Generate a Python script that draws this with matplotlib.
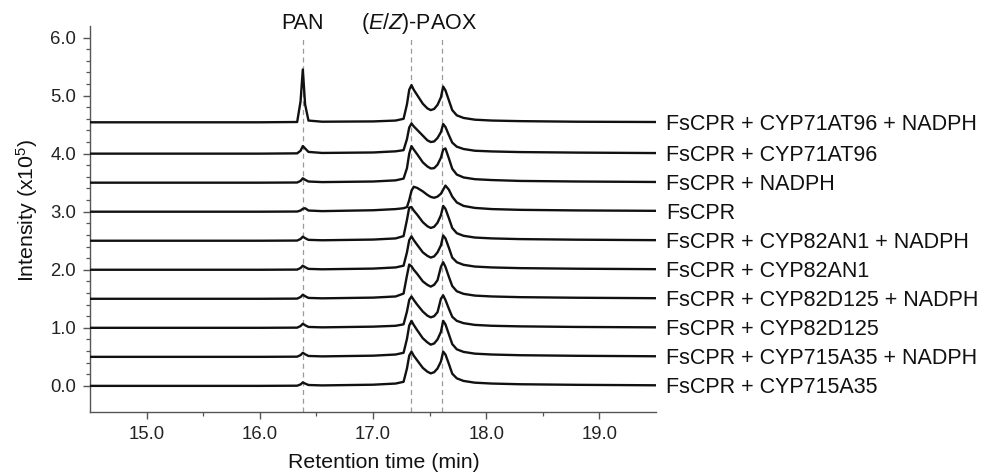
import numpy as np
import matplotlib
matplotlib.use('Agg')
import matplotlib.pyplot as plt
from matplotlib.ticker import FixedLocator

plt.rcParams['font.family'] = 'Liberation Sans'
plt.rcParams['mathtext.fontset'] = 'custom'
plt.rcParams['mathtext.rm'] = 'Liberation Sans'
plt.rcParams['mathtext.it'] = 'Liberation Sans:italic'
plt.rcParams['mathtext.default'] = 'regular'

# retention time grid (min), shared by all traces
rt = [14.50, 16.00, 16.33, 16.36, 16.38, 16.40, 16.43, 16.55, 17.00, 17.20,
      17.27, 17.30, 17.32, 17.34, 17.36, 17.39, 17.44, 17.48, 17.51, 17.54,
      17.57, 17.60, 17.62, 17.64, 17.67, 17.70, 17.74, 17.80, 17.90, 18.05,
      18.30, 18.80, 19.50]

# intensity above each trace's own baseline (x10^5), bottom trace first
cyp715a35 = [0, 0, .003, .025, .06, .04, .015, .008, .02, .04,
             .07, .30, .52, .59, .52, .44, .31, .245, .215, .235,
             .30, .42, .59, .54, .38, .21, .13, .085, .055, .04,
             .028, .018, .01]
cyp715a35_nadph = [0, 0, .003, .03, .07, .045, .015, .008, .02, .04,
                   .07, .31, .54, .62, .55, .46, .32, .25, .21, .23,
                   .30, .43, .62, .56, .39, .22, .13, .085, .055, .04,
                   .028, .018, .01]
cyp82d125 = [0, 0, .003, .03, .07, .045, .015, .008, .02, .035,
             .06, .28, .48, .54, .48, .40, .28, .21, .18, .20,
             .27, .50, .56, .48, .33, .19, .12, .08, .05, .035,
             .025, .015, .008]
cyp82d125_nadph = [0, 0, .003, .03, .07, .045, .015, .008, .02, .04,
                   .09, .40, .59, .56, .50, .43, .30, .24, .21, .24,
                   .32, .55, .63, .55, .38, .22, .13, .085, .055, .04,
                   .028, .018, .01]
cyp82an1 = [0, 0, .003, .03, .07, .045, .015, .008, .02, .04,
            .07, .30, .51, .575, .51, .43, .30, .24, .21, .23,
            .30, .42, .59, .54, .38, .21, .13, .085, .055, .04,
            .028, .018, .01]
cyp82an1_nadph = [0, 0, .003, .03, .07, .045, .015, .008, .02, .04,
                  .08, .36, .57, .58, .52, .45, .32, .25, .22, .24,
                  .31, .44, .60, .55, .39, .22, .13, .085, .055, .04,
                  .028, .018, .01]
fscpr = [0, 0, .003, .02, .05, .06, .02, .01, .025, .045,
         .06, .08, .20, .36, .43, .41, .35, .29, .255, .24,
         .26, .31, .38, .45, .38, .26, .16, .10, .065, .045,
         .032, .022, .015]
fscpr_nadph = [0, 0, .003, .03, .075, .05, .02, .01, .02, .04,
               .07, .25, .50, .63, .57, .49, .35, .28, .245, .25,
               .31, .43, .57, .59, .42, .24, .14, .09, .06, .045,
               .03, .02, .012]
cyp71at96 = [0, 0, .005, .05, .13, .09, .03, .012, .02, .04,
             .06, .25, .45, .52, .47, .41, .31, .23, .20, .21,
             .27, .37, .51, .46, .32, .19, .12, .08, .05, .038,
             .027, .018, .01]
cyp71at96_nadph = [.04, .04, .045, .40, .95, .35, .07, .05, .055, .07,
                   .10, .35, .60, .68, .60, .51, .36, .28, .25, .27,
                   .34, .47, .655, .59, .42, .25, .16, .115, .085, .07,
                   .06, .05, .045]

traces = [cyp715a35, cyp715a35_nadph, cyp82d125, cyp82d125_nadph, cyp82an1,
          cyp82an1_nadph, fscpr, fscpr_nadph, cyp71at96, cyp71at96_nadph]
labels = ['FsCPR + CYP715A35', 'FsCPR + CYP715A35 + NADPH',
          'FsCPR + CYP82D125', 'FsCPR + CYP82D125 + NADPH',
          'FsCPR + CYP82AN1', 'FsCPR + CYP82AN1 + NADPH',
          'FsCPR', 'FsCPR + NADPH',
          'FsCPR + CYP71AT96', 'FsCPR + CYP71AT96 + NADPH']
offsets = [0.0, 0.5, 1.0, 1.5, 2.0, 2.5, 3.0, 3.5, 4.0, 4.5]

peak_rt = [16.38, 17.333, 17.613]
peak_names = ['PAN', r'($\mathit{E/Z}$)-PAOX']
peak_name_rt = [16.38, 17.41]

fig = plt.figure(figsize=(9.99, 4.73), dpi=100)
ax = fig.add_axes([90 / 999, 61 / 473, 566 / 999, 385.5 / 473])

ax.vlines(peak_rt, -0.45, 6.0, colors='#9a9a9a', linestyles=(0, (4, 3)),
          lw=0.9, zorder=1)

for vals, off, lab in zip(traces, offsets, labels):
    y = np.array(vals) + off
    ax.plot(rt, y, color='#111111', lw=1.7, zorder=3, solid_joinstyle='round')
    ax.annotate(lab, xy=(19.5, off + vals[-1]), xytext=(7.5, -5.6),
                textcoords='offset points', va='baseline', ha='left',
                fontsize=15.5, color='#111111', annotation_clip=False)

for name, x in zip(peak_names, peak_name_rt):
    ax.text(x, 6.245, name, ha='center', va='center', fontsize=15.5,
            color='#111111', clip_on=False)

ax.set_xlim(14.5, 19.5)
ax.set_ylim(-0.45, 6.19)
ax.set_xticks([15, 16, 17, 18, 19])
ax.set_xticklabels(['15.0', '16.0', '17.0', '18.0', '19.0'])
ax.set_yticks([0, 1, 2, 3, 4, 5, 6])
ax.set_yticklabels(['0.0', '1.0', '2.0', '3.0', '4.0', '5.0', '6.0'])
ax.xaxis.set_minor_locator(FixedLocator([15.5, 16.5, 17.5, 18.5]))
ax.yaxis.set_minor_locator(FixedLocator([v for v in np.arange(0.2, 6.0, 0.2)
                                         if abs(v - round(v)) > 0.05]))

for s in ['top', 'right']:
    ax.spines[s].set_visible(False)
for s in ['left', 'bottom']:
    ax.spines[s].set_color('#555555')
    ax.spines[s].set_linewidth(1.0)

ax.tick_params(which='major', length=5, width=1, color='#555555',
               labelsize=13.3, labelcolor='#222222')
ax.tick_params(which='minor', length=2.8, width=0.9, color='#555555')
ax.tick_params(axis='y', pad=5)
ax.tick_params(axis='x', pad=5)

ax.text(0.5186, -0.132, 'Retention time (min)', transform=ax.transAxes,
        ha='center', va='center', fontsize=15.3, color='#111111')
ax.text(-0.111, 0.522, 'Intensity (x10$^5$)', transform=ax.transAxes,
        ha='center', va='center', rotation=90, fontsize=15.3, color='#111111')

fig.savefig('out.png', dpi=100)
